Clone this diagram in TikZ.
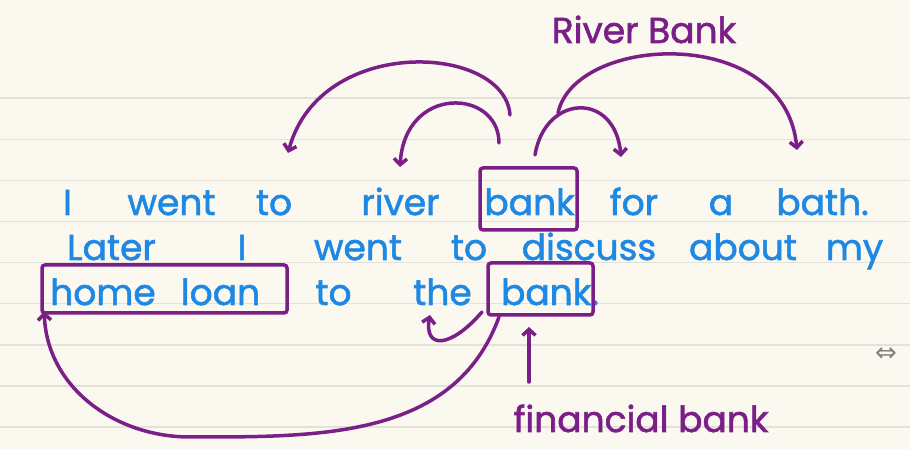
\documentclass[tikz,border=0pt]{standalone}
\usepackage{fontspec}
\newfontfamily\handfont{Poppins}[FakeBold=1.6]
\newfontfamily\symfont{DejaVu Sans}
\usetikzlibrary{arrows.meta}
\definecolor{paper}{HTML}{FBF8EF}
\definecolor{ruling}{HTML}{E4E1D8}
\definecolor{ink}{HTML}{1E88E5}
\definecolor{pen}{HTML}{7B1F88}

\begin{document}
\begin{tikzpicture}[x=1pt, y=1pt,
  word/.style={font=\handfont\fontsize{36}{40}\selectfont, text=ink, inner sep=0pt, anchor=base},
  note/.style={font=\handfont\fontsize{36}{40}\selectfont, text=pen, inner sep=0pt, anchor=base},
  hl/.style={draw=pen, line width=3.5pt, rounded corners=3pt, inner sep=0pt},
  arr/.style={draw=pen, line width=3.5pt, line cap=round,
              -{Straight Barb[length=6pt, width=13pt]}},
  rule/.style={draw=ruling, line width=1.5pt}]
  \fill[paper] (0,0) rectangle (910,449);
  \useasboundingbox (0,0) rectangle (910,449);
  % ruled paper
  \foreach \k in {0,...,8}
    \draw[rule] (0,{22+41.1*\k}) -- (910,{22+41.1*\k});

  % first sentence
  \node[word] (i1) at (67.5,234) {I};
  \node[word] (went1) at (171.5,234) {went};
  \node[word] (to1) at (274,234) {to};
  \node[word] (river) at (400.5,234) {river};
  \node[word] (bank1) at (529.5,234) {bank};
  \node[word] (for) at (634,234) {for};
  \node[word] (a) at (721,234) {a};
  \node[word] (bath) at (822.5,234) {bath.};
  % second sentence
  \node[word] (later) at (111.5,189) {Later};
  \node[word] (i2) at (242,189) {I};
  \node[word] (went2) at (358,189) {went};
  \node[word] (to2) at (469,189) {to};
  \node[word] (discuss) at (589,189) {discuss};
  \node[word] (about) at (743,189) {about};
  \node[word] (my) at (854.5,189) {my};
  \node[word] (home) at (103,144) {home};
  \node[word] (loan) at (220.5,144) {loan};
  \node[word] (to3) at (333.5,144) {to};
  \node[word] (the) at (442.5,144) {the};
  \node[word] (bank2) at (550,144) {bank.};

  % highlighted words
  \node[hl, minimum width=97pt, minimum height=62pt] (box1) at (528.5,250) {};
  \node[hl, minimum width=245pt, minimum height=48pt] (box2) at (164.5,160) {};
  \node[hl, minimum width=105pt, minimum height=52pt] (box3) at (540.5,160) {};

  % notes
  \node[note] (riverbank) at (644,406) {River Bank};
  \node[note] (finbank) at (641,17) {financial bank};
  \node[font=\symfont\fontsize{26}{26}\selectfont, text=gray] (cursor) at (886,94) {⇔};

  % arrows out of the first bank
  \coordinate (tailA) at (510,334);
  \coordinate (tailB) at (499,306);
  \coordinate (tailC) at (535,294);
  \coordinate (tailD) at (558,336);
  \coordinate (headA) at (288,296);
  \coordinate (headB) at (400,282);
  \coordinate (headC) at (621,292);
  \coordinate (headD) at (797,299);
  \draw[arr] (tailA) .. controls (505,405) and (320,415) .. (headA);
  \draw[arr] (tailB) .. controls (499,360) and (405,365) .. (headB);
  \draw[arr] (tailC) .. controls (545,355) and (615,358) .. (headC);
  \draw[arr] (tailD) .. controls (575,415) and (785,425) .. (headD);

  % arrows around the second bank
  \coordinate (tailE) at (499,132);
  \coordinate (tailF) at (482,137);
  \coordinate (headF) at (430,134);
  \coordinate (tailG) at (529,67);
  \coordinate (headG) at (529,122);
  \draw[arr] (tailE) to[out=-110, in=0] (190,12)
             to[out=180, in=-88] ([shift={(4,3)}]box2.south west);
  \draw[arr] (tailF) .. controls (450,100) and (424,100) .. (headF);
  \draw[arr] (tailG) -- (headG);
\end{tikzpicture}
\end{document}
